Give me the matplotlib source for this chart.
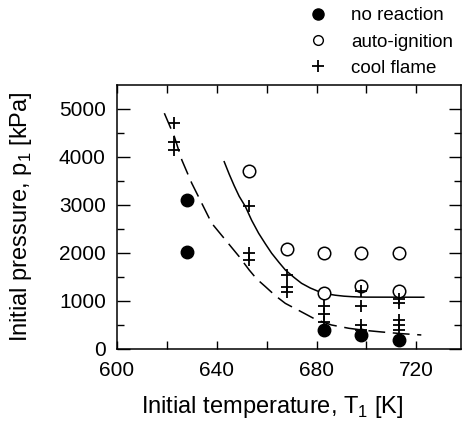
import matplotlib
matplotlib.use('Agg')
import matplotlib.pyplot as plt
from matplotlib.lines import Line2D

plt.rcParams['font.family'] = ['Liberation Sans', 'DejaVu Sans']

# measured points
nr_T = [628, 628, 683, 698, 713]
nr_p = [3100, 2020, 400, 290, 190]

ai_T = [653, 668, 683, 698, 713, 683, 698, 713]
ai_p = [3700, 2080, 2000, 2000, 2000, 1175, 1310, 1200]

cf_T = [623, 623, 623, 653, 653, 653, 668, 668, 668, 683, 683, 683,
        698, 698, 698, 698, 713, 713, 713, 713, 713]
cf_p = [4700, 4320, 4150, 2980, 1990, 1850, 1540, 1300, 1195, 900, 730, 560,
        1200, 890, 500, 390, 1040, 960, 610, 500, 400]

# auto-ignition boundary (solid)
ai_line_T = [643, 645, 647, 649, 651.5, 654, 656.8, 659.5, 662, 665, 667.5,
             671, 674, 677.5, 681, 684, 687.5, 691, 694, 697, 700, 723]
ai_line_p = [3900, 3640, 3400, 3180, 2965, 2680, 2410, 2190, 1995, 1800, 1646,
             1490, 1368, 1270, 1194, 1150, 1120, 1100, 1090, 1083, 1080, 1078]

# cool flame boundary (dashed)
cf_line_T = [619, 623, 626, 630, 634, 638, 643.5, 649, 653, 656, 659.5, 663.5,
             667.5, 673, 679.5, 686, 693, 699, 706, 714, 722]
cf_line_p = [4910, 4424, 3937, 3451, 3035, 2618, 2271, 1924, 1646, 1460, 1299,
             1110, 950, 800, 620, 500, 431, 390, 355, 320, 292]

fig = plt.figure(figsize=(4.64, 4.33), dpi=100)
ax = fig.add_axes([0.252, 0.194, 0.742, 0.61])

ax.plot(ai_line_T, ai_line_p, color='black', lw=1.1)
ax.plot(cf_line_T, cf_line_p, color='black', lw=1.1, dashes=(11, 5))

ax.plot(nr_T, nr_p, 'o', color='black', ms=9, ls='none')
ax.plot(ai_T, ai_p, 'o', mfc='white', mec='black', mew=1.1, ms=9, ls='none')
ax.plot(cf_T, cf_p, '+', color='black', ms=8, mew=1.3, ls='none')

ax.set_xlim(600, 738)
ax.set_ylim(0, 5500)
ax.set_xticks([600, 640, 680, 720])
ax.set_xticks([620, 660, 700], minor=True)
ax.set_yticks([0, 1000, 2000, 3000, 4000, 5000])
ax.set_yticks([500, 1500, 2500, 3500, 4500], minor=True)
ax.tick_params(which='both', direction='in', top=True, right=True,
               labelsize=15, width=1)
ax.tick_params(axis='y', which='major', length=9, pad=8)
ax.tick_params(axis='y', which='minor', length=5)
ax.tick_params(axis='x', which='both', length=6)
ax.tick_params(axis='x', pad=9)
for s in ax.spines.values():
    s.set_linewidth(1.1)

ax.set_xlabel('Initial temperature, T$_\\mathregular{1}$ [K]', fontsize=17)
ax.set_ylabel('Initial pressure, p$_\\mathregular{1}$ [kPa]', fontsize=17)
ax.xaxis.set_label_coords(0.45, -0.17)
ax.yaxis.set_label_coords(-0.24, 0.5)

handles = [
    Line2D([], [], marker='o', color='black', ls='none', ms=8),
    Line2D([], [], marker='o', mfc='white', mec='black', ls='none', ms=7),
    Line2D([], [], marker='+', color='black', ls='none', ms=8, mew=1.3),
]
fig.legend(handles, ['no reaction', 'auto-ignition', 'cool flame'],
           loc='upper left', bbox_to_anchor=(0.624, 1.022), frameon=False,
           fontsize=13.5, handletextpad=1.2, labelspacing=0.48,
           handlelength=1.2)

fig.savefig('out.png', dpi=100)
